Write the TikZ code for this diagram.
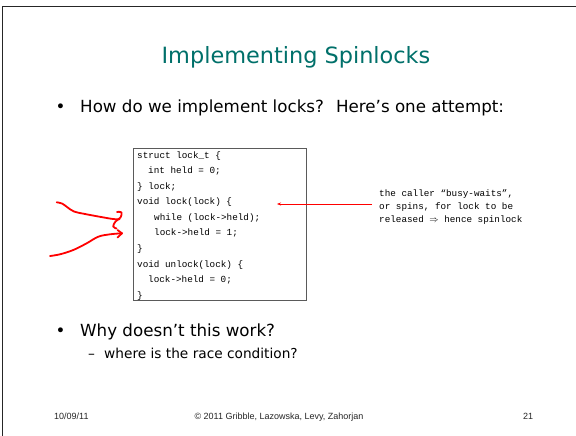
\documentclass[tikz,border=0pt]{standalone}
\usepackage{fontspec}
\setmainfont{DejaVu Sans}
\newfontfamily\monofnt{Liberation Mono}
\newfontfamily\footfnt{Liberation Sans}
\usetikzlibrary{arrows.meta}
\definecolor{titleteal}{RGB}{0,112,106}
\definecolor{boxgray}{RGB}{90,90,90}
\definecolor{scribred}{RGB}{255,0,0}
\begin{document}
\begin{tikzpicture}[x=1pt,y=-1pt,
  titletext/.style={font=\fontsize{22.4}{26}\selectfont, text=titleteal, inner sep=0pt, anchor=base},
  bullettext/.style={font=\fontsize{16.7}{20}\selectfont, inner sep=0pt, anchor=base west},
  subtext/.style={font=\fontsize{13.7}{16}\selectfont, inner sep=0pt, anchor=base west},
  codetext/.style={font=\monofnt\fontsize{9.3}{11}\selectfont, inner sep=0pt, anchor=base west},
  foottext/.style={font=\footfnt\fontsize{9}{11}\selectfont, text=black!85, inner sep=0pt, anchor=base},
  scribble/.style={draw=scribred, line width=1.8pt, line cap=round, line join=round},
]
\useasboundingbox (0,0) rectangle (576,436);
\fill[white] (0,0) rectangle (576,436);
% slide border
\draw[line width=1pt, black!85] (2.5,436) -- (2.5,7) -- (576,7);

% title
\node[titletext] (title) at (296,63.3) {Implementing Spinlocks};

% bullet 1
\node[bullettext, anchor=base] (b1dot) at (60.5,112.7) {•};
\node[bullettext] (b1) at (80,112.7) {How do we implement locks?\hspace{0.3em} Here’s one attempt:};

% code box
\node[draw=boxgray, line width=1.2pt, minimum width=173pt, minimum height=152pt, inner sep=0pt, anchor=north west] (codebox) at (133,148) {};
\node[codetext] (c1) at (137,158.2) {struct lock\_t \{};
\node[codetext] (c2) at (148,173.7) {int held = 0;};
\node[codetext] (c3) at (137,189.3) {\} lock;};
\node[codetext] (c4) at (137,204.8) {void lock(lock) \{};
\node[codetext] (c5) at (154,220.4) {while (lock->held);};
\node[codetext] (c6) at (154,235.9) {lock->held = 1;};
\node[codetext] (c7) at (137,251.5) {\}};
\node[codetext] (c8) at (137,267.0) {void unlock(lock) \{};
\node[codetext] (c9) at (148,282.6) {lock->held = 0;};
\node[codetext] (c10) at (137,298.1) {\}};

% note on right
\node[codetext] (n1) at (379,196.5) {the caller “busy-waits”,};
\node[codetext] (n2) at (379,209.5) {or spins, for lock to be};
\node[codetext] (n3) at (379,222.5) {released $\Rightarrow$ hence spinlock};
\coordinate (arrstart) at (372,204);
\coordinate (arrend) at (277,204);
\draw[scribred, line width=0.6pt, -{Stealth[length=4pt,width=3pt]}] (arrstart) -- (arrend);

% hand-drawn scribble
\draw[scribble] plot[smooth, tension=0.6] coordinates {(56.7,202.3) (62,203.5) (67,207) (74,211.5) (84,213.8) (100,216.8) (113,219) (119.5,219.3)};
\draw[scribble] plot[smooth, tension=0.6] coordinates {(117,212) (121.5,212.3) (120.5,217.5) (115.5,221.5) (113.2,226.5) (116.5,228.5)};
\draw[scribble] plot[smooth, tension=0.6] coordinates {(50,256) (60,254.3) (73.3,250) (86.7,243.3) (98.3,236.7) (110,234.3) (122,233.3)};
\draw[scribble] (117.5,230) -- (122,233.3) -- (117.5,237.5);

% bullet 2
\node[bullettext, anchor=base] (b2dot) at (60.5,336.5) {•};
\node[bullettext] (b2) at (80,336.5) {Why doesn’t this work?};
\node[subtext] (s1dash) at (88,358.5) {–};
\node[subtext] (s1) at (104,358.5) {where is the race condition?};

% footer
\node[foottext, anchor=base west] (fdate) at (54,419) {10/09/11};
\node[foottext] (fcopy) at (279,419) {© 2011 Gribble, Lazowska, Levy, Zahorjan};
\node[foottext, anchor=base west] (fpage) at (523,419) {21};
\end{tikzpicture}
\end{document}
